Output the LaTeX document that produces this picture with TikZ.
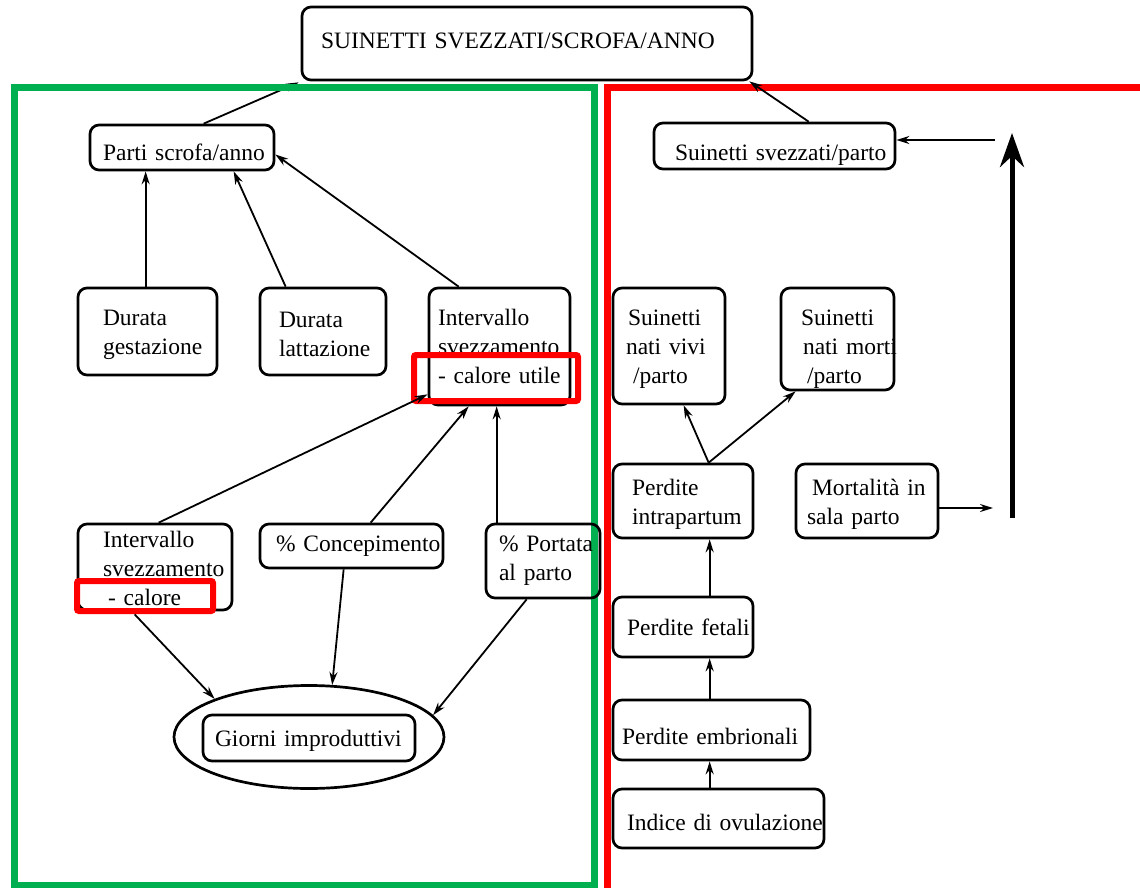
\documentclass[tikz,border=0pt]{standalone}
\usepackage{fontspec}
\setmainfont{Liberation Serif}
\usetikzlibrary{arrows.meta,shapes.geometric}
\definecolor{frgreen}{HTML}{00B050}
\definecolor{frred}{HTML}{FF0000}
\begin{document}
\begin{tikzpicture}[x=1pt,y=-1pt,
  box/.style={draw, rounded corners=9pt, line width=2.7pt, inner ysep=0pt, align=left,
    font=\fontsize{23.5}{29}\selectfont},
  dn/.style={execute at begin node={\rule{0pt}{#1pt}}},
  arr/.style={line width=1.8pt, -{Stealth[length=13pt,width=8pt]}},
  bigarr/.style={line width=5pt, -{Stealth[length=34pt,width=24pt]}},
  frame/.style={line width=7pt},
  hl/.style={draw=frred, line width=6pt, rounded corners=2pt}]
\clip (0,0) rectangle (1140,888);
\fill[white] (0,0) rectangle (1140,888);

% top box
\node[box, minimum width=450, minimum height=73, inner xsep=19, text width=412] (top) at (527,43.5)
  {\mbox{SUINETTI SVEZZATI/SCROFA/ANNO}\rule[-6pt]{0pt}{0pt}};

% left side
\node[box, dn=26, minimum width=184, minimum height=45, inner xsep=13, text width=158] (parti) at (182,147.5)
  {\mbox{Parti scrofa/anno}};

% connector that runs under the green frame
\draw[arr] ([xshift=115]parti.north west) -- ([xshift=-2,yshift=-1]top.south west);

% frames
\draw[frame, frgreen] (14.5,87.5) rectangle (594.5,885);
\draw[frame, frred] (607.5,87.5) rectangle (1160,905);

\node[box, dn=22, minimum width=139, minimum height=87, inner xsep=25, text width=89] (gest) at (147.5,331.5)
  {\mbox{Durata}\\\mbox{gestazione}};
\node[box, dn=22, minimum width=126, minimum height=87, inner xsep=19, text width=88] (latt) at (323,331.5)
  {\mbox{Durata}\\\mbox{lattazione}};
\node[box, minimum width=141, minimum height=117, inner xsep=9, text width=123] (topint) at (499.5,346.5)
  {\mbox{Intervallo}\\\mbox{svezzamento}\\\mbox{- calore utile}};
\node[box, dn=20, minimum width=154, minimum height=86, inner xsep=25, text width=104] (botint) at (155,567)
  {\mbox{Intervallo}\\\mbox{svezzamento}\\\mbox{\hspace*{5pt}- calore}};
\node[box, minimum width=183, minimum height=44, inner xsep=16, text width=151] (conc) at (351.5,546)
  {\mbox{\% Concepimento}};
\node[box, minimum width=114, minimum height=74, inner xsep=13, text width=88] (port) at (543,561)
  {\mbox{\% Portata}\\\mbox{al parto}};
\node[draw, ellipse, line width=2.7pt, minimum width=270, minimum height=103, inner sep=0pt] (ell) at (309,737) {};
\node[box, dn=22, minimum width=212, minimum height=46, inner xsep=12, text width=188] (giorni) at (309,738)
  {\mbox{Giorni improduttivi}};

% right side
\node[box, dn=34, minimum width=241, minimum height=46, inner xsep=21, text width=199] (svez) at (774.5,146)
  {\mbox{Suinetti svezzati/parto}};
\node[box, dn=22, minimum width=112, minimum height=116, inner xsep=13, text width=86] (vivi) at (669,346)
  {\mbox{\hspace*{2pt}Suinetti}\\\mbox{nati vivi}\\\mbox{\hspace*{7pt}/parto}};
\node[box, dn=36, minimum width=113, minimum height=102, inner xsep=20, text width=73] (morti) at (837.5,339)
  {\mbox{Suinetti}\\\mbox{\hspace*{2pt}nati morti}\\\mbox{\hspace*{6pt}/parto}};
\node[box, dn=22, minimum width=140, minimum height=74, inner xsep=19, text width=102] (intra) at (683,501)
  {\mbox{Perdite}\\\mbox{intrapartum}};
\node[box, dn=22, minimum width=142, minimum height=74, inner xsep=11, text width=120] (mort) at (867,501)
  {\mbox{\hspace*{5pt}Mortalità in}\\\mbox{sala parto}};
\node[box, minimum width=140, minimum height=60, inner xsep=14, text width=112] (fetali) at (683,627)
  {\mbox{Perdite fetali}};
\node[box, dn=30, minimum width=197, minimum height=60, inner xsep=9, text width=179] (embr) at (711.5,730)
  {\mbox{Perdite embrionali}};
\node[box, dn=24, minimum width=211, minimum height=59, inner xsep=14, text width=183] (indice) at (718.5,818.5)
  {\mbox{Indice di ovulazione}};

\coordinate (mortend) at (993,508);
\coordinate (svezstart) at (995,140);
\coordinate (bigbot) at (1012,518);
\coordinate (bigtop) at (1012,133);

% highlight rectangles
\draw[hl] (414,355) rectangle (578,401);
\draw[hl] (77,581) rectangle (213,611);

% left connectors
\draw[arr] ([xshift=69]gest.north west) -- ([xshift=57]parti.south west);
\draw[arr] ([xshift=27]latt.north west) -- ([xshift=145]parti.south west);
\draw[arr] ([xshift=31]topint.north west) -- ([yshift=-7]parti.east);
\draw[arr] ([xshift=82]botint.north west) -- ([yshift=12]topint.south west);
\draw[arr] ([xshift=112]conc.north west) -- ([xshift=41]topint.south west);
\draw[arr] ([xshift=12]port.north west) -- ([xshift=69]topint.south west);
\draw[arr] ([xshift=58,yshift=-3]botint.south west) -- (ell.158);
\draw[arr] ([xshift=85]conc.south west) -- (ell.66);
\draw[arr] ([xshift=42]port.south west) -- (ell.10);

% right connectors
\draw[arr] ([xshift=156]svez.north west) -- ([xshift=-4]top.south east);
\draw[arr] (svezstart) -- ([yshift=6]svez.east);
\draw[arr] ([xshift=97]intra.north west) -- ([xshift=72]vivi.south west);
\draw[arr] ([xshift=97]intra.north west) -- ([xshift=16]morti.south west);
\draw[arr] ([xshift=98]fetali.north west) -- ([xshift=98]intra.south west);
\draw[arr] ([xshift=98]embr.north west) -- ([xshift=98]fetali.south west);
\draw[arr] ([xshift=98]indice.north west) -- ([xshift=98]embr.south west);
\draw[arr] ([yshift=-7]mort.east) -- (mortend);
\draw[bigarr] (bigbot) -- (bigtop);
\end{tikzpicture}
\end{document}
